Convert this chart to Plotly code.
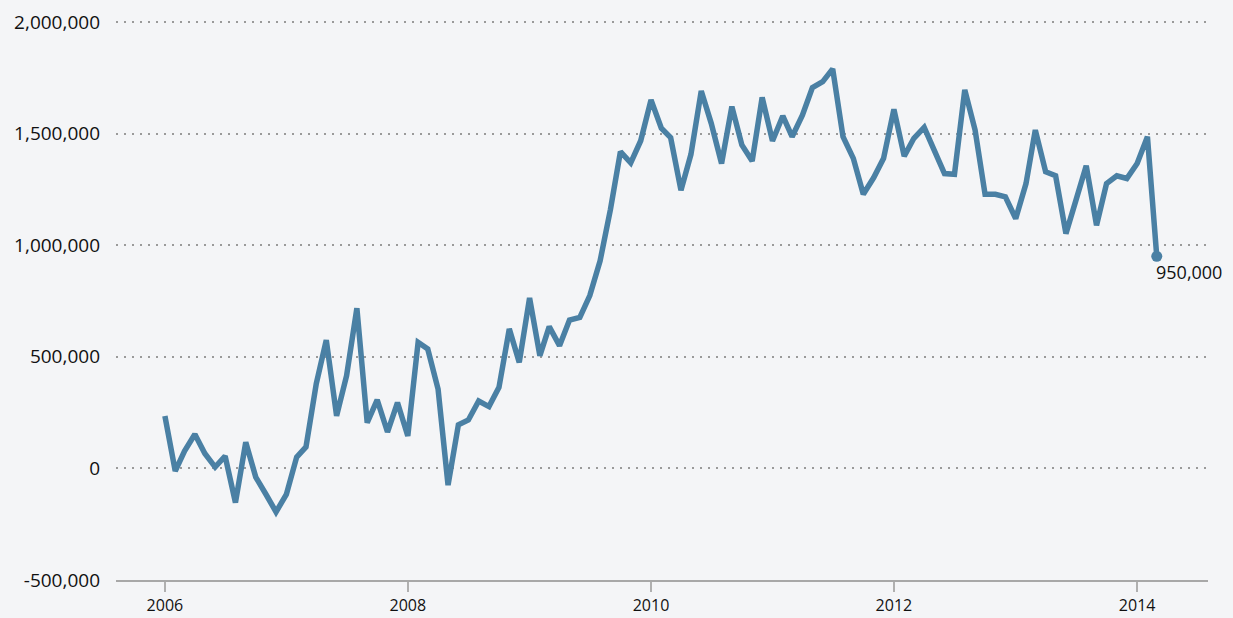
import plotly.graph_objects as go
import pandas as pd

dates = pd.date_range("2006-01-01", "2014-03-01", freq="MS")

values = [
    # 2006
    235000, -12000, 78000, 153000, 67000, 6000, 55000, -153000, 117000, -39000, -117000, -195000,
    # 2007
    -117000, 51000, 96000, 380000, 575000, 235000, 415000, 718000, 205000, 307000, 163000, 295000,
    # 2008
    145000, 565000, 535000, 355000, -75000, 195000, 217000, 302000, 277000, 363000, 625000, 475000,
    # 2009
    764000, 505000, 635000, 550000, 665000, 677000, 774000, 930000, 1160000, 1419000, 1369000, 1468000,
    # 2010
    1651000, 1524000, 1482000, 1246000, 1407000, 1691000, 1546000, 1366000, 1621000, 1449000, 1377000, 1662000,
    # 2011
    1467000, 1579000, 1486000, 1583000, 1706000, 1733000, 1790000, 1486000, 1389000, 1228000, 1302000, 1389000,
    # 2012
    1609000, 1399000, 1479000, 1528000, 1426000, 1321000, 1318000, 1696000, 1516000, 1228000, 1228000, 1217000,
    # 2013
    1119000, 1276000, 1516000, 1329000, 1311000, 1052000, 1201000, 1356000, 1089000, 1276000, 1311000, 1299000,
    # 2014
    1366000, 1486000, 950000,
]

y_ticks = [-500000, 0, 500000, 1000000, 1500000, 2000000]
y_tick_labels = ["-500,000", "0", "500,000", "1,000,000", "1,500,000", "2,000,000"]
x_ticks = ["2006-01-01", "2008-01-01", "2010-01-01", "2012-01-01", "2014-01-01"]
x_tick_labels = ["2006", "2008", "2010", "2012", "2014"]

LINE = "#4a80a4"
BG = "#f4f5f7"
FONT = "Open Sans"

fig = go.Figure()
fig.add_trace(go.Scatter(
    x=dates, y=values, mode="lines",
    line=dict(color=LINE, width=5.5, shape="linear"),
    hoverinfo="x+y", showlegend=False,
))
fig.add_trace(go.Scatter(
    x=[dates[-1]], y=[values[-1]], mode="markers",
    marker=dict(color=LINE, size=11),
    showlegend=False, hoverinfo="skip",
))
fig.add_annotation(
    x=dates[-1], y=values[-1], text=f"{values[-1]:,}",
    xanchor="left", yanchor="top", showarrow=False,
    xshift=-3, yshift=-2,
    font=dict(family=FONT, size=18, color="#111"),
)

fig.update_layout(
    width=1233, height=618,
    margin=dict(l=116, r=25, t=20, b=38),
    paper_bgcolor=BG, plot_bgcolor=BG,
    font=dict(family=FONT, size=18, color="#111"),
    xaxis=dict(
        range=["2005-08-07", "2014-08-02"],
        tickvals=x_ticks, ticktext=x_tick_labels,
        showgrid=False, zeroline=False, automargin=False,
        showline=True, linecolor="#a8a8a8", linewidth=2,
        ticks="outside", ticklen=10, tickcolor="#b0b0b0", tickwidth=1.5,
        ticklabelstandoff=0,
        tickfont=dict(family=FONT, size=16, color="#111"),
    ),
    yaxis=dict(
        range=[-500000, 2009000],
        tickvals=y_ticks, ticktext=y_tick_labels,
        showgrid=True, gridcolor="#9a9a9a", griddash="2px,6px", gridwidth=2,
        zeroline=False, showline=False, automargin=False,
        ticks="", ticklabelstandoff=15,
        tickfont=dict(family=FONT, size=19, color="#111"),
    ),
)

fig.write_html(
    "out.html",
    config={"displayModeBar": False},
    post_script="document.body.style.margin='0';document.body.style.background='#f4f5f7';document.body.style.overflow='hidden';",
)
